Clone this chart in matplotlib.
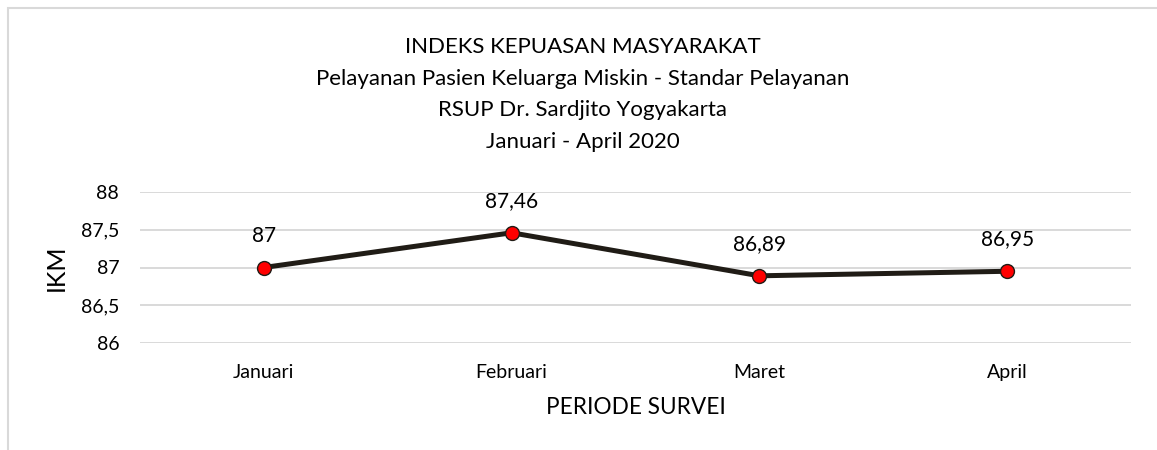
import matplotlib
matplotlib.use("Agg")
import matplotlib.pyplot as plt
from matplotlib.patches import Rectangle
from matplotlib.ticker import FuncFormatter

plt.rcParams['font.family'] = ['Lato', 'DejaVu Sans']

# Data
bulan = ["Januari", "Februari", "Maret", "April"]
ikm = [87.00, 87.46, 86.89, 86.95]
label_nilai = ["87", "87,46", "86,89", "86,95"]
judul = ["INDEKS KEPUASAN MASYARAKAT",
         "Pelayanan Pasien Keluarga Miskin - Standar Pelayanan",
         "RSUP Dr. Sardjito Yogyakarta",
         "Januari - April 2020"]

W, H = 1157, 450
fig = plt.figure(figsize=(W / 100, H / 100), dpi=100)
ax = fig.add_axes([140 / W, 1 - 343 / H, (1131 - 140) / W, (343 - 192) / H])

# chart border (light gray, cut off on the right/bottom)
fig.patches.append(Rectangle((8 / W, -0.1), 1.2, 1 - 8 / H + 0.1,
                             transform=fig.transFigure, fill=False,
                             edgecolor='#d9d9d9', linewidth=1.5))

x = list(range(len(bulan)))
ax.plot(x, ikm, color='#201c16', linewidth=3.6, marker='o', markersize=10,
        markerfacecolor='#ff0000', markeredgecolor='#201c16',
        markeredgewidth=1.0, zorder=3, solid_capstyle='round')

for xi, yi, txt in zip(x, ikm, label_nilai):
    ax.annotate(txt, (xi, yi), xytext=(0, 23), textcoords='offset points',
                ha='center', va='center', fontsize=15, color='black')

ax.set_xlim(-0.5, len(bulan) - 0.5)
ax.set_ylim(86, 88)
ax.set_yticks([86, 86.5, 87, 87.5, 88])
ax.yaxis.set_major_formatter(FuncFormatter(lambda v, p: f"{v:g}".replace('.', ',')))
ax.set_xticks(x)
ax.set_xticklabels(bulan)

ax.grid(axis='y', color='#d9d9d9', linewidth=1.4)
ax.set_axisbelow(True)
for s in ax.spines.values():
    s.set_visible(False)
ax.tick_params(axis='both', length=0, labelsize=14, colors='black')
ax.tick_params(axis='y', pad=15)
ax.tick_params(axis='x', pad=15)

ax.set_ylabel("IKM", fontsize=18)
ax.yaxis.set_label_coords((68 - 140) / 991, 0.5)
ax.set_xlabel("PERIODE SURVEI", fontsize=16.3, labelpad=12)

for i, line in enumerate(judul):
    fig.text(583 / W, 1 - (53 + i * 31.7) / H, line, ha='center',
             va='baseline', fontsize=16, color='black')

fig.savefig("out.png", dpi=100)
